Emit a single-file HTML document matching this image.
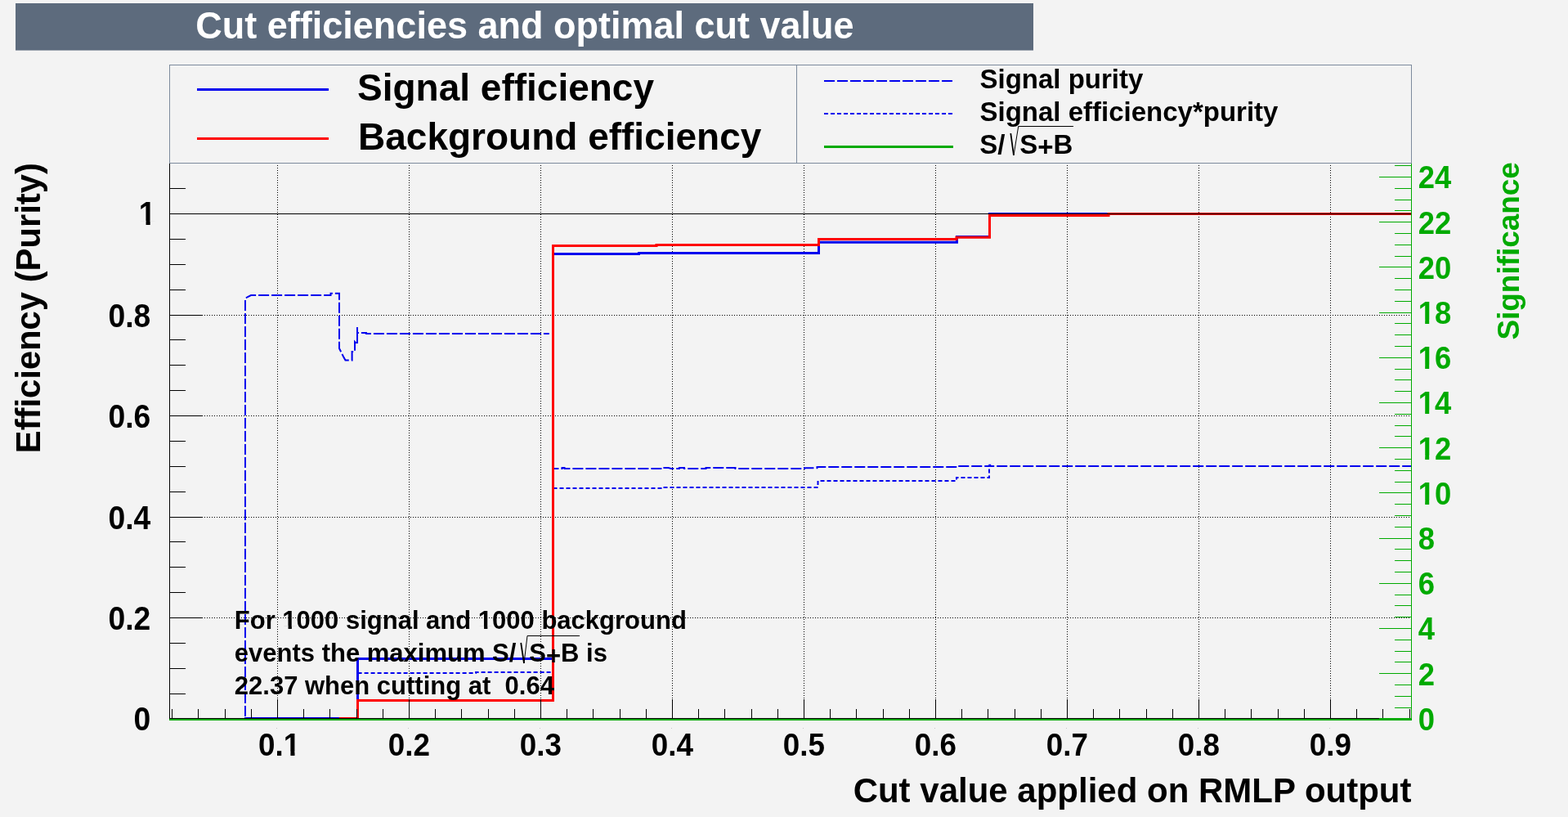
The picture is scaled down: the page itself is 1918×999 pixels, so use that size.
<!DOCTYPE html>
<html lang="en">
<head>
<meta charset="utf-8">
<title>Cut efficiencies and optimal cut value</title>
<style>
html,body{margin:0;padding:0;background:#f3f3f3;overflow:hidden;}
svg{display:block;}
svg text{font-family:'Liberation Sans', Arial, Helvetica, sans-serif;font-weight:bold;white-space:pre;}
</style>
</head>
<body>
<svg width="1918" height="999" viewBox="0 0 1918 999" role="img" aria-label="Cut efficiencies and optimal cut value">
<rect x="0" y="0" width="1918" height="999" fill="#f3f3f3"/>
<rect x="19" y="4" width="1245" height="57.6" fill="#5d6b7d"/>
<text transform="translate(239.3,46.5) scale(0.962,1)" font-size="46.8" fill="#fff">Cut efficiencies and optimal cut value</text>
<g fill="none" stroke="#7d8b9d" stroke-width="1" shape-rendering="crispEdges">
<rect x="207.5" y="79.5" width="767" height="120"/>
<rect x="974.5" y="79.5" width="752" height="120"/>
</g>
<line x1="241" y1="109.5" x2="402" y2="109.5" stroke="#0000ee" stroke-width="3"/>
<line x1="241" y1="169.5" x2="402" y2="169.5" stroke="#ff0000" stroke-width="3"/>
<text transform="translate(437,123.2)" font-size="46">Signal efficiency</text>
<text transform="translate(438,183.2)" font-size="46">Background efficiency</text>
<line x1="1008" y1="99" x2="1165" y2="99" stroke="#0000ee" stroke-width="2" stroke-dasharray="13 3"/>
<line x1="1008" y1="139" x2="1165" y2="139" stroke="#0000ee" stroke-width="2" stroke-dasharray="5 3"/>
<line x1="1008" y1="179.5" x2="1166" y2="179.5" stroke="#00aa00" stroke-width="3"/>
<text transform="translate(1198.5,108.4)" font-size="33">Signal purity</text>
<text transform="translate(1198.5,148)" font-size="33">Signal efficiency*purity</text>
<text transform="translate(1198.3,188.3)" font-size="33">S/</text>
<text transform="translate(1247.3,188.3)" font-size="33">S<tspan dy="3">+</tspan><tspan dy="-3">B</tspan></text>
<line x1="1236.3" y1="163" x2="1240" y2="189.8" stroke="#000" stroke-width="1.8"/>
<polyline points="1240,189.8 1245.7,154.5 1313,154.5" fill="none" stroke="#000" stroke-width="1"/>
<g stroke="#000" stroke-width="1" stroke-dasharray="1 2" shape-rendering="crispEdges">
<line x1="339.5" y1="202" x2="339.5" y2="878.5"/>
<line x1="500.5" y1="202" x2="500.5" y2="878.5"/>
<line x1="661.5" y1="202" x2="661.5" y2="878.5"/>
<line x1="822.5" y1="202" x2="822.5" y2="878.5"/>
<line x1="983.5" y1="202" x2="983.5" y2="878.5"/>
<line x1="1144.5" y1="202" x2="1144.5" y2="878.5"/>
<line x1="1305.5" y1="202" x2="1305.5" y2="878.5"/>
<line x1="1466.5" y1="202" x2="1466.5" y2="878.5"/>
<line x1="1627.5" y1="202" x2="1627.5" y2="878.5"/>
<line x1="250" y1="755.5" x2="1726.5" y2="755.5"/>
<line x1="250" y1="632.5" x2="1726.5" y2="632.5"/>
<line x1="250" y1="508.5" x2="1726.5" y2="508.5"/>
<line x1="250" y1="385.5" x2="1726.5" y2="385.5"/>
</g>
<polyline points="300.0,876.0 300.0,365.5 301.5,364.0 303.0,363.0 307.0,361.0 404.5,361.0 404.5,358.8 415.0,358.8 415.0,426.0 417.0,430.0 418.0,432.0 420.0,436.0 422.5,440.6 430.6,440.6 430.6,430.0 434.0,430.0 434.0,418.0 437.0,421.0 437.0,400.0 437.0,407.0 448.0,407.0 448.0,408.0 671.8,408.0" fill="none" stroke="#0000ee" stroke-width="2" stroke-dasharray="13 3"/>
<polyline points="676.5,573.0 687.5,573.0 687.5,572.0 690.5,572.0 690.5,573.0 811.0,573.0 811.0,572.0 817.5,572.0 821.0,573.0 831.0,573.0 831.0,572.0 837.0,572.0 837.0,573.0 863.5,573.0 863.5,572.0 899.5,572.0 899.5,573.0 984.0,573.0 984.0,572.2 999.5,572.2 999.5,571.0 1171.0,571.0 1171.0,570.0 1210.0,570.0" fill="none" stroke="#0000ee" stroke-width="2" stroke-dasharray="13 3" stroke-dashoffset="6.1"/>
<polyline points="1210,570 1210,568.5 1211.5,568.5 1211.5,570" fill="none" stroke="#0000ee" stroke-width="1.5"/>
<line x1="1210" y1="570" x2="1726" y2="570" stroke="#0000ee" stroke-width="2" stroke-dasharray="13 3" stroke-dashoffset="6.8"/>
<polyline points="437.6,823.0 582.0,823.0 582.0,822.0 676.0,822.0" fill="none" stroke="#0000ee" stroke-width="2" stroke-dasharray="5 3"/>
<polyline points="676.5,597.0 810.0,597.0 810.0,596.0 1000.5,596.0 1000.5,588.0 1170.0,588.0 1170.0,584.0 1210.0,584.0 1210.0,570.0" fill="none" stroke="#0000ee" stroke-width="2" stroke-dasharray="5 3"/>
<polyline points="299.0,878.5 437.5,878.5 437.5,805.5 676.5,805.5 676.5,310.5 781.5,310.5 781.5,309.5 1001.5,309.5 1001.5,296.3 1170.5,296.3 1170.5,289.5 1210.5,289.5 1210.5,261.5 1726.0,261.5" fill="none" stroke="#0000ee" stroke-width="3" stroke-linejoin="miter"/>
<polyline points="415.0,878.5 437.5,878.5 437.5,856.5 676.5,856.5 676.5,300.5 803.0,300.5 803.0,299.5 1001.5,299.5 1001.5,292.5 1170.0,292.5 1170.0,290.3 1210.5,290.3 1210.5,263.5 1356.0,263.5 1356.0,261.5 1726.0,261.5" fill="none" stroke="#ff0000" stroke-width="3" stroke-linejoin="miter"/>
<g stroke="#000" stroke-width="1" shape-rendering="crispEdges">
<line x1="207.5" y1="200.0" x2="207.5" y2="879.0"/>
<line x1="207" y1="878.5" x2="1726.5" y2="878.5"/>
<line x1="207.5" y1="261.5" x2="1726.5" y2="261.5"/>
<line x1="207.5" y1="848.5" x2="227" y2="848.5"/>
<line x1="207.5" y1="817.5" x2="227" y2="817.5"/>
<line x1="207.5" y1="786.5" x2="227" y2="786.5"/>
<line x1="207.5" y1="755.5" x2="248" y2="755.5"/>
<line x1="207.5" y1="724.5" x2="227" y2="724.5"/>
<line x1="207.5" y1="693.5" x2="227" y2="693.5"/>
<line x1="207.5" y1="662.5" x2="227" y2="662.5"/>
<line x1="207.5" y1="632.5" x2="248" y2="632.5"/>
<line x1="207.5" y1="601.5" x2="227" y2="601.5"/>
<line x1="207.5" y1="570.5" x2="227" y2="570.5"/>
<line x1="207.5" y1="539.5" x2="227" y2="539.5"/>
<line x1="207.5" y1="508.5" x2="248" y2="508.5"/>
<line x1="207.5" y1="477.5" x2="227" y2="477.5"/>
<line x1="207.5" y1="446.5" x2="227" y2="446.5"/>
<line x1="207.5" y1="415.5" x2="227" y2="415.5"/>
<line x1="207.5" y1="385.5" x2="248" y2="385.5"/>
<line x1="207.5" y1="354.5" x2="227" y2="354.5"/>
<line x1="207.5" y1="323.5" x2="227" y2="323.5"/>
<line x1="207.5" y1="292.5" x2="227" y2="292.5"/>
<line x1="207.5" y1="261.5" x2="248" y2="261.5"/>
<line x1="207.5" y1="230.5" x2="227" y2="230.5"/>
<line x1="210.5" y1="878.5" x2="210.5" y2="866.5"/>
<line x1="242.5" y1="878.5" x2="242.5" y2="866.5"/>
<line x1="275.5" y1="878.5" x2="275.5" y2="866.5"/>
<line x1="307.5" y1="878.5" x2="307.5" y2="866.5"/>
<line x1="339.5" y1="878.5" x2="339.5" y2="855.0"/>
<line x1="371.5" y1="878.5" x2="371.5" y2="866.5"/>
<line x1="403.5" y1="878.5" x2="403.5" y2="866.5"/>
<line x1="436.5" y1="878.5" x2="436.5" y2="866.5"/>
<line x1="468.5" y1="878.5" x2="468.5" y2="866.5"/>
<line x1="500.5" y1="878.5" x2="500.5" y2="855.0"/>
<line x1="532.5" y1="878.5" x2="532.5" y2="866.5"/>
<line x1="564.5" y1="878.5" x2="564.5" y2="866.5"/>
<line x1="597.5" y1="878.5" x2="597.5" y2="866.5"/>
<line x1="629.5" y1="878.5" x2="629.5" y2="866.5"/>
<line x1="661.5" y1="878.5" x2="661.5" y2="855.0"/>
<line x1="693.5" y1="878.5" x2="693.5" y2="866.5"/>
<line x1="725.5" y1="878.5" x2="725.5" y2="866.5"/>
<line x1="758.5" y1="878.5" x2="758.5" y2="866.5"/>
<line x1="790.5" y1="878.5" x2="790.5" y2="866.5"/>
<line x1="822.5" y1="878.5" x2="822.5" y2="855.0"/>
<line x1="854.5" y1="878.5" x2="854.5" y2="866.5"/>
<line x1="886.5" y1="878.5" x2="886.5" y2="866.5"/>
<line x1="919.5" y1="878.5" x2="919.5" y2="866.5"/>
<line x1="951.5" y1="878.5" x2="951.5" y2="866.5"/>
<line x1="983.5" y1="878.5" x2="983.5" y2="855.0"/>
<line x1="1015.5" y1="878.5" x2="1015.5" y2="866.5"/>
<line x1="1047.5" y1="878.5" x2="1047.5" y2="866.5"/>
<line x1="1080.5" y1="878.5" x2="1080.5" y2="866.5"/>
<line x1="1112.5" y1="878.5" x2="1112.5" y2="866.5"/>
<line x1="1144.5" y1="878.5" x2="1144.5" y2="855.0"/>
<line x1="1176.5" y1="878.5" x2="1176.5" y2="866.5"/>
<line x1="1208.5" y1="878.5" x2="1208.5" y2="866.5"/>
<line x1="1241.5" y1="878.5" x2="1241.5" y2="866.5"/>
<line x1="1273.5" y1="878.5" x2="1273.5" y2="866.5"/>
<line x1="1305.5" y1="878.5" x2="1305.5" y2="855.0"/>
<line x1="1337.5" y1="878.5" x2="1337.5" y2="866.5"/>
<line x1="1369.5" y1="878.5" x2="1369.5" y2="866.5"/>
<line x1="1402.5" y1="878.5" x2="1402.5" y2="866.5"/>
<line x1="1434.5" y1="878.5" x2="1434.5" y2="866.5"/>
<line x1="1466.5" y1="878.5" x2="1466.5" y2="855.0"/>
<line x1="1498.5" y1="878.5" x2="1498.5" y2="866.5"/>
<line x1="1530.5" y1="878.5" x2="1530.5" y2="866.5"/>
<line x1="1563.5" y1="878.5" x2="1563.5" y2="866.5"/>
<line x1="1595.5" y1="878.5" x2="1595.5" y2="866.5"/>
<line x1="1627.5" y1="878.5" x2="1627.5" y2="855.0"/>
<line x1="1659.5" y1="878.5" x2="1659.5" y2="866.5"/>
<line x1="1691.5" y1="878.5" x2="1691.5" y2="866.5"/>
<line x1="1724.5" y1="878.5" x2="1724.5" y2="866.5"/>
</g>
<line x1="207" y1="880" x2="1727.0" y2="880" stroke="#00aa00" stroke-width="2" shape-rendering="crispEdges"/>
<g stroke="#00aa00" stroke-width="1" shape-rendering="crispEdges">
<line x1="1726.5" y1="200.0" x2="1726.5" y2="881.0"/>
<line x1="1686.5" y1="878.5" x2="1726.5" y2="878.5"/>
<line x1="1706.0" y1="865.5" x2="1726.5" y2="865.5"/>
<line x1="1706.0" y1="851.5" x2="1726.5" y2="851.5"/>
<line x1="1706.0" y1="837.5" x2="1726.5" y2="837.5"/>
<line x1="1686.5" y1="823.5" x2="1726.5" y2="823.5"/>
<line x1="1706.0" y1="809.5" x2="1726.5" y2="809.5"/>
<line x1="1706.0" y1="796.5" x2="1726.5" y2="796.5"/>
<line x1="1706.0" y1="782.5" x2="1726.5" y2="782.5"/>
<line x1="1686.5" y1="768.5" x2="1726.5" y2="768.5"/>
<line x1="1706.0" y1="754.5" x2="1726.5" y2="754.5"/>
<line x1="1706.0" y1="740.5" x2="1726.5" y2="740.5"/>
<line x1="1706.0" y1="727.5" x2="1726.5" y2="727.5"/>
<line x1="1686.5" y1="713.5" x2="1726.5" y2="713.5"/>
<line x1="1706.0" y1="699.5" x2="1726.5" y2="699.5"/>
<line x1="1706.0" y1="685.5" x2="1726.5" y2="685.5"/>
<line x1="1706.0" y1="671.5" x2="1726.5" y2="671.5"/>
<line x1="1686.5" y1="658.5" x2="1726.5" y2="658.5"/>
<line x1="1706.0" y1="644.5" x2="1726.5" y2="644.5"/>
<line x1="1706.0" y1="630.5" x2="1726.5" y2="630.5"/>
<line x1="1706.0" y1="616.5" x2="1726.5" y2="616.5"/>
<line x1="1686.5" y1="602.5" x2="1726.5" y2="602.5"/>
<line x1="1706.0" y1="589.5" x2="1726.5" y2="589.5"/>
<line x1="1706.0" y1="575.5" x2="1726.5" y2="575.5"/>
<line x1="1706.0" y1="561.5" x2="1726.5" y2="561.5"/>
<line x1="1686.5" y1="547.5" x2="1726.5" y2="547.5"/>
<line x1="1706.0" y1="533.5" x2="1726.5" y2="533.5"/>
<line x1="1706.0" y1="520.5" x2="1726.5" y2="520.5"/>
<line x1="1706.0" y1="506.5" x2="1726.5" y2="506.5"/>
<line x1="1686.5" y1="492.5" x2="1726.5" y2="492.5"/>
<line x1="1706.0" y1="478.5" x2="1726.5" y2="478.5"/>
<line x1="1706.0" y1="464.5" x2="1726.5" y2="464.5"/>
<line x1="1706.0" y1="451.5" x2="1726.5" y2="451.5"/>
<line x1="1686.5" y1="437.5" x2="1726.5" y2="437.5"/>
<line x1="1706.0" y1="423.5" x2="1726.5" y2="423.5"/>
<line x1="1706.0" y1="409.5" x2="1726.5" y2="409.5"/>
<line x1="1706.0" y1="395.5" x2="1726.5" y2="395.5"/>
<line x1="1686.5" y1="382.5" x2="1726.5" y2="382.5"/>
<line x1="1706.0" y1="368.5" x2="1726.5" y2="368.5"/>
<line x1="1706.0" y1="354.5" x2="1726.5" y2="354.5"/>
<line x1="1706.0" y1="340.5" x2="1726.5" y2="340.5"/>
<line x1="1686.5" y1="326.5" x2="1726.5" y2="326.5"/>
<line x1="1706.0" y1="313.5" x2="1726.5" y2="313.5"/>
<line x1="1706.0" y1="299.5" x2="1726.5" y2="299.5"/>
<line x1="1706.0" y1="285.5" x2="1726.5" y2="285.5"/>
<line x1="1686.5" y1="271.5" x2="1726.5" y2="271.5"/>
<line x1="1706.0" y1="257.5" x2="1726.5" y2="257.5"/>
<line x1="1706.0" y1="244.5" x2="1726.5" y2="244.5"/>
<line x1="1706.0" y1="230.5" x2="1726.5" y2="230.5"/>
<line x1="1686.5" y1="216.5" x2="1726.5" y2="216.5"/>
<line x1="1706.0" y1="202.5" x2="1726.5" y2="202.5"/>
</g>
<text transform="translate(184.3,892.7) scale(0.932,1)" font-size="40" text-anchor="end">0</text>
<text transform="translate(184.3,769.7) scale(0.932,1)" font-size="40" text-anchor="end">0.2</text>
<text transform="translate(184.3,646.7) scale(0.932,1)" font-size="40" text-anchor="end">0.4</text>
<text transform="translate(184.3,522.7) scale(0.932,1)" font-size="40" text-anchor="end">0.6</text>
<text transform="translate(184.3,399.7) scale(0.932,1)" font-size="40" text-anchor="end">0.8</text>
<text transform="translate(190.6,274.8) scale(0.932,1)" font-size="40" text-anchor="end">1</text>
<rect x="171.41" y="270.12" width="7.15" height="5.48" fill="#f3f3f3"/>
<rect x="183.68" y="270.12" width="6.68" height="5.48" fill="#f3f3f3"/>
<text transform="translate(341.7,924) scale(0.93,1)" font-size="39.6" text-anchor="middle">0.1</text>
<rect x="348.34" y="919.36" width="7.08" height="5.44" fill="#f3f3f3"/>
<rect x="360.46" y="919.36" width="6.61" height="5.44" fill="#f3f3f3"/>
<text transform="translate(500.4,924) scale(0.93,1)" font-size="39.6" text-anchor="middle">0.2</text>
<text transform="translate(661.4,924) scale(0.93,1)" font-size="39.6" text-anchor="middle">0.3</text>
<text transform="translate(822.4,924) scale(0.93,1)" font-size="39.6" text-anchor="middle">0.4</text>
<text transform="translate(983.4,924) scale(0.93,1)" font-size="39.6" text-anchor="middle">0.5</text>
<text transform="translate(1144.4,924) scale(0.93,1)" font-size="39.6" text-anchor="middle">0.6</text>
<text transform="translate(1305.4,924) scale(0.93,1)" font-size="39.6" text-anchor="middle">0.7</text>
<text transform="translate(1466.4,924) scale(0.93,1)" font-size="39.6" text-anchor="middle">0.8</text>
<text transform="translate(1627.4,924) scale(0.93,1)" font-size="39.6" text-anchor="middle">0.9</text>
<text transform="translate(1734.7,892.8) scale(0.938,1)" font-size="38.8" fill="#00aa00">0</text>
<text transform="translate(1734.7,837.6) scale(0.938,1)" font-size="38.8" fill="#00aa00">2</text>
<text transform="translate(1734.7,782.4) scale(0.938,1)" font-size="38.8" fill="#00aa00">4</text>
<text transform="translate(1734.7,727.2) scale(0.938,1)" font-size="38.8" fill="#00aa00">6</text>
<text transform="translate(1734.7,672.0) scale(0.938,1)" font-size="38.8" fill="#00aa00">8</text>
<text transform="translate(1734.7,616.8) scale(0.938,1)" font-size="38.8" fill="#00aa00">10</text>
<rect x="1736.19" y="612.24" width="7.00" height="5.36" fill="#f3f3f3"/>
<rect x="1748.19" y="612.24" width="6.54" height="5.36" fill="#f3f3f3"/>
<text transform="translate(1734.7,561.6) scale(0.938,1)" font-size="38.8" fill="#00aa00">12</text>
<rect x="1736.19" y="557.04" width="7.00" height="5.36" fill="#f3f3f3"/>
<rect x="1748.19" y="557.04" width="6.54" height="5.36" fill="#f3f3f3"/>
<text transform="translate(1734.7,506.4) scale(0.938,1)" font-size="38.8" fill="#00aa00">14</text>
<rect x="1736.19" y="501.84" width="7.00" height="5.36" fill="#f3f3f3"/>
<rect x="1748.19" y="501.84" width="6.54" height="5.36" fill="#f3f3f3"/>
<text transform="translate(1734.7,451.2) scale(0.938,1)" font-size="38.8" fill="#00aa00">16</text>
<rect x="1736.19" y="446.64" width="7.00" height="5.36" fill="#f3f3f3"/>
<rect x="1748.19" y="446.64" width="6.54" height="5.36" fill="#f3f3f3"/>
<text transform="translate(1734.7,396.0) scale(0.938,1)" font-size="38.8" fill="#00aa00">18</text>
<rect x="1736.19" y="391.44" width="7.00" height="5.36" fill="#f3f3f3"/>
<rect x="1748.19" y="391.44" width="6.54" height="5.36" fill="#f3f3f3"/>
<text transform="translate(1734.7,340.8) scale(0.938,1)" font-size="38.8" fill="#00aa00">20</text>
<text transform="translate(1734.7,285.6) scale(0.938,1)" font-size="38.8" fill="#00aa00">22</text>
<text transform="translate(1734.7,230.4) scale(0.938,1)" font-size="38.8" fill="#00aa00">24</text>
<rect x="338" y="890" width="1" height="1" fill="#c4c4c4"/>
<rect x="499" y="890" width="1" height="1" fill="#c4c4c4"/>
<rect x="660" y="890" width="1" height="1" fill="#c4c4c4"/>
<rect x="821" y="890" width="1" height="1" fill="#c4c4c4"/>
<rect x="982" y="890" width="1" height="1" fill="#c4c4c4"/>
<rect x="1143" y="890" width="1" height="1" fill="#c4c4c4"/>
<rect x="1304" y="890" width="1" height="1" fill="#c4c4c4"/>
<rect x="1465" y="890" width="1" height="1" fill="#c4c4c4"/>
<rect x="1626" y="890" width="1" height="1" fill="#c4c4c4"/>
<text transform="translate(1726.5,980.5)" font-size="42" text-anchor="end">Cut value applied on RMLP output</text>
<text transform="translate(49.2,199.2) rotate(-90)" font-size="41.75" text-anchor="end">Efficiency (Purity)</text>
<text transform="translate(1858.4,198.2) rotate(-90) scale(1.0005,1)" font-size="36.9" text-anchor="end" fill="#00aa00">Significance</text>
<text transform="translate(286.8,769)" font-size="31">For 1000 signal and 1000 background</text>
<rect x="346.50" y="765.24" width="6.08" height="4.56" fill="#f3f3f3"/>
<rect x="356.84" y="765.24" width="5.69" height="4.56" fill="#f3f3f3"/>
<rect x="585.99" y="765.24" width="6.08" height="4.56" fill="#f3f3f3"/>
<rect x="596.33" y="765.24" width="5.69" height="4.56" fill="#f3f3f3"/>
<text transform="translate(286.8,809.3)" font-size="31">events the maximum S/</text>
<text transform="translate(647.3,809.3)" font-size="31">S<tspan dy="2.8">+</tspan><tspan dy="-2.8">B is</tspan></text>
<text transform="translate(286.8,849.3)" font-size="31" xml:space="preserve">22.37 when cutting at  0.64</text>
<line x1="637.2" y1="786" x2="641" y2="811" stroke="#000" stroke-width="1.8"/>
<polyline points="641,811 645,777.5 709,777.5" fill="none" stroke="#000" stroke-width="1"/>
</svg>
</body>
</html>
